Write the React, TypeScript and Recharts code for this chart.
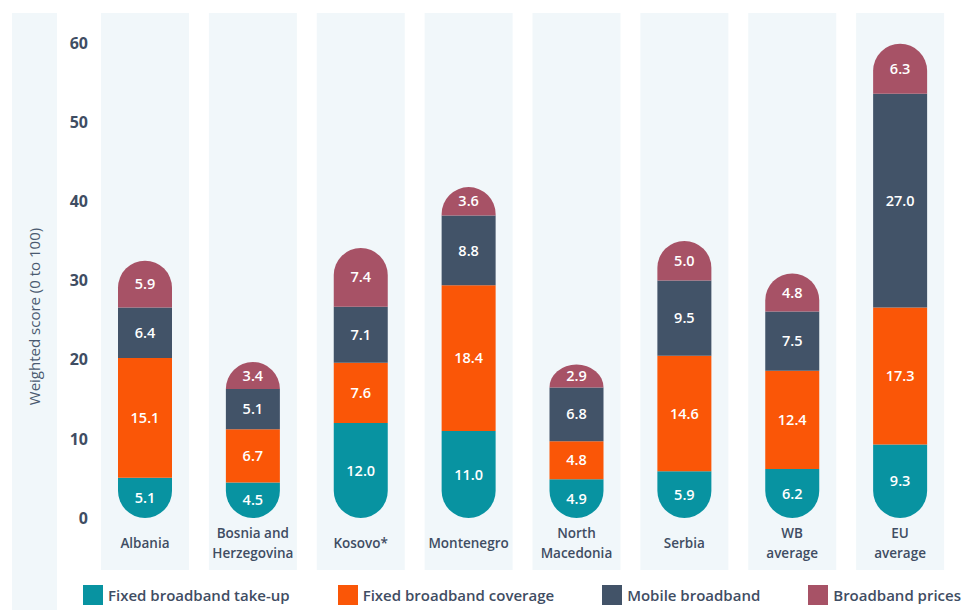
import { Bar, BarChart, LabelList, Legend, XAxis, YAxis } from "recharts";

const countries = [
  "Albania",
  "Bosnia and\nHerzegovina",
  "Kosovo*",
  "Montenegro",
  "North\nMacedonia",
  "Serbia",
  "WB\naverage",
  "EU\naverage",
];
const takeUp = [5.1, 4.5, 12.0, 11.0, 4.9, 5.9, 6.2, 9.3];
const coverage = [15.1, 6.7, 7.6, 18.4, 4.8, 14.6, 12.4, 17.3];
const mobile = [6.4, 5.1, 7.1, 8.8, 6.8, 9.5, 7.5, 27.0];
const prices = [5.9, 3.4, 7.4, 3.6, 2.9, 5.0, 4.8, 6.3];
const yTicks = [0, 10, 20, 30, 40, 50, 60];

const series = [
  { key: "takeUp", name: "Fixed broadband take-up", color: "#0893a1" },
  { key: "coverage", name: "Fixed broadband coverage", color: "#fa5607" },
  { key: "mobile", name: "Mobile broadband", color: "#425368" },
  { key: "prices", name: "Broadband prices", color: "#a75266" },
];

const data = countries.map((c, i) => ({
  name: c,
  takeUp: takeUp[i],
  coverage: coverage[i],
  mobile: mobile[i],
  prices: prices[i],
}));

const ink = "#3f4d63";
const panel = "#f1f7fa";
const font = "'Open Sans', sans-serif";

// rounded top / bottom ends, radius capped by the segment height
function Pill(props: any) {
  const { x, y, width: w, height: h, fill, end } = props;
  if (!h || h <= 0) return null;
  const r = Math.min(w / 2, h);
  let d: string;
  if (end === "top") {
    d = `M${x},${y + h} L${x},${y + r} A${w / 2},${r} 0 0 1 ${x + w},${y + r} L${x + w},${y + h} Z`;
  } else {
    d = `M${x},${y} L${x + w},${y} L${x + w},${y + h - r} A${w / 2},${r} 0 0 1 ${x},${y + h - r} Z`;
  }
  return <path d={d} fill={fill} />;
}

function Column(props: any) {
  const { x, y, width, height } = props;
  const pad = 17;
  return (
    <rect
      x={x - pad}
      y={y - 30}
      width={width + pad * 2}
      height={height + 30 + 52}
      fill={panel}
    />
  );
}

function CatTick(props: any) {
  const { x, y, payload } = props;
  const lines = String(payload.value).split("\n");
  const start = lines.length === 1 ? 30 : 20;
  return (
    <g>
      {lines.map((l, i) => (
        <text
          key={i}
          x={x}
          y={y + start + i * 20}
          textAnchor="middle"
          fill={ink}
          fontSize={13.5}
          fontWeight={600}
          fontFamily={font}
        >
          {l}
        </text>
      ))}
    </g>
  );
}

function YTitle(props: any) {
  const { viewBox } = props;
  const cy = viewBox.y + viewBox.height / 2 + 36;
  return (
    <g>
      <rect x={12} y={13} width={45} height={597} fill={panel} />
      <text
        x={40}
        y={cy}
        transform={`rotate(-90 40 ${cy})`}
        textAnchor="middle"
        fill="#4a5a70"
        fontSize={15}
        fontFamily={font}
      >
        Weighted score (0 to 100)
      </text>
    </g>
  );
}

function LegendBox() {
  return (
    <div
      style={{
        display: "flex",
        justifyContent: "space-between",
        alignItems: "center",
        width: 963,
        paddingLeft: 83,
        paddingRight: 2,
        paddingTop: 12,
        height: 42,
        boxSizing: "border-box",
        fontFamily: font,
      }}
    >
      {series.map((s) => (
        <div key={s.key} style={{ display: "flex", alignItems: "center" }}>
          <span
            style={{
              width: 20,
              height: 20,
              background: s.color,
              display: "inline-block",
              marginRight: 5,
            }}
          />
          <span style={{ fontSize: 15, fontWeight: 600, color: ink }}>{s.name}</span>
        </div>
      ))}
    </div>
  );
}

export default function App() {
  return (
    <div style={{ position: "absolute", left: 0, top: 0, background: "#fff" }}>
      <BarChart
        width={963}
        height={610}
        data={data}
        margin={{ top: 43, right: 9, left: 0, bottom: 0 }}
        barCategoryGap="25%"
      >
        <YAxis
          domain={[0, 60]}
          ticks={yTicks}
          width={91}
          axisLine={false}
          tickLine={false}
          tickSize={0}
          tickMargin={3}
          tick={{ fill: ink, fontSize: 16, fontWeight: 700, fontFamily: font }}
          label={<YTitle />}
        />
        {series.map((s, i) => (
          <Bar
            key={s.key}
            dataKey={s.key}
            name={s.name}
            stackId="a"
            fill={s.color}
            barSize={54}
            isAnimationActive={false}
            background={i === 0 ? <Column /> : undefined}
            shape={
              i === 0 ? (
                <Pill end="bottom" />
              ) : i === series.length - 1 ? (
                <Pill end="top" />
              ) : undefined
            }
          >
            <LabelList
              dataKey={s.key}
              position="center"
              formatter={(v: any) => Number(v).toFixed(1)}
              fill="#ffffff"
              fontSize={14.5}
              fontWeight={600}
              fontFamily={font}
            />
          </Bar>
        ))}
        <XAxis
          dataKey="name"
          axisLine={false}
          tickLine={false}
          tickSize={0}
          tickMargin={0}
          height={50}
          interval={0}
          tick={<CatTick />}
        />
        <Legend verticalAlign="bottom" height={42} content={<LegendBox />} />
      </BarChart>
    </div>
  );
}
